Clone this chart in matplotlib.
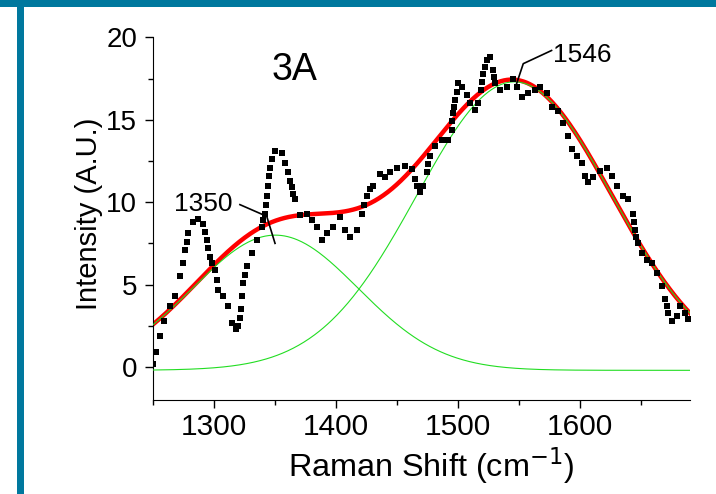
import matplotlib
matplotlib.use("Agg")
import matplotlib.pyplot as plt
import numpy as np
from matplotlib.patches import Rectangle

# measured Raman spectrum (black squares)
raman_shift = [1250, 1252, 1255.5, 1259, 1263.7, 1268, 1272, 1274, 1276, 1277.3, 1278.7,
               1282.8, 1286.9, 1291, 1292.4, 1293.8, 1294.8, 1296.5, 1298.5, 1300.6, 1302,
               1303.3, 1307.4, 1311.5, 1314.3, 1317.8, 1319.7, 1321, 1321.6, 1322.7, 1323.8,
               1325, 1326.6, 1330.7, 1334.8, 1338.9, 1340, 1341.6, 1342.5, 1343.5, 1344.3,
               1345.1, 1346, 1347, 1349.8, 1355.2, 1358, 1360.7, 1362, 1363.4, 1364.7,
               1366.1, 1370.2, 1375.7, 1379.8, 1383.9, 1388, 1392.1, 1397.5, 1403, 1407.1,
               1411.2, 1416.7, 1420.8, 1422.8, 1424.9, 1427.5, 1430.3, 1435.8, 1439.9, 1444,
               1449.5, 1456.3, 1461.8, 1464.5, 1465.9, 1468.6, 1471.3, 1474.1, 1475.5, 1476.8,
               1480.9, 1486.4, 1491.8, 1494.6, 1495.2, 1495.9, 1496.5, 1497.3, 1498.6, 1500,
               1502.8, 1506.9, 1509.6, 1513.7, 1516.4, 1518.4, 1519.5, 1520.5, 1521.9, 1523.3,
               1526, 1528.7, 1529.4, 1530.1, 1534.2, 1539.7, 1545.1, 1547.9, 1552, 1557.4,
               1562.9, 1567, 1572.5, 1576.6, 1582, 1586.1, 1590.2, 1593, 1597, 1601.1,
               1603.9, 1606.6, 1610.7, 1616.1, 1621.6, 1625.7, 1629.8, 1635.2, 1639.3, 1643.4,
               1643.9, 1644.8, 1646, 1647.5, 1650.3, 1654.4, 1658.5, 1662.6, 1666.7, 1669.4,
               1670.8, 1672.1, 1674.9, 1679, 1681.7, 1685.8, 1688.5]
intensity = [0.2, 0.9, 1.9, 2.8, 3.7, 4.3, 5.5, 6.3, 7.1, 7.6, 8.1,
             8.8, 9.0, 8.7, 8.2, 7.7, 7.2, 6.7, 6.3, 5.9, 5.3,
             4.7, 4.3, 3.7, 2.7, 2.3, 2.5, 3.0, 3.5, 4.3, 5.1,
             5.6, 6.1, 6.9, 7.7, 8.5, 8.9, 9.3, 9.8, 10.4, 11.0,
             11.6, 12.1, 12.6, 13.1, 13.0, 12.4, 11.8, 11.3, 10.9, 10.5,
             10.2, 9.2, 9.3, 8.9, 8.5, 7.7, 8.1, 8.5, 9.1, 8.3,
             7.9, 8.3, 9.3, 9.8, 10.4, 10.8, 11.0, 11.7, 11.5, 11.8,
             12.1, 12.2, 12.0, 11.4, 11.0, 10.6, 11.0, 11.8, 12.3, 12.8,
             13.4, 13.8, 13.8, 14.4, 14.9, 15.4, 15.8, 16.2, 16.7, 17.2,
             17.0, 16.5, 16.0, 15.6, 16.0, 16.8, 17.3, 17.8, 18.2, 18.6,
             18.8, 18.0, 17.6, 17.2, 16.8, 17.0, 17.5, 17.0, 16.4, 16.6,
             16.8, 17.0, 16.6, 15.8, 15.5, 14.8, 14.0, 13.2, 12.8, 12.4,
             11.6, 11.2, 11.5, 11.9, 12.1, 11.6, 11.0, 10.4, 10.2, 9.3,
             8.8, 8.3, 7.9, 7.5, 6.9, 6.5, 6.3, 5.7, 4.9, 4.1,
             3.7, 3.3, 2.8, 3.1, 3.7, 3.3, 2.9]

# fitted peaks (green) and their sum (red)
peak_centers = [1350, 1546]
peak_heights = [8.2, 17.5]
peak_widths = [68, 80]
baseline = -0.2

xfit = np.linspace(1250, 1690, 500)
peaks = [h * np.exp(-(xfit - c) ** 2 / (2 * w ** 2))
         for c, h, w in zip(peak_centers, peak_heights, peak_widths)]
total = baseline + sum(peaks)

plt.rcParams['font.family'] = ['Liberation Sans', 'DejaVu Sans']
fig = plt.figure(figsize=(7.16, 4.94), dpi=100)
ax = fig.add_axes([0.2141, 0.1903, 0.7496, 0.7342])

ax.plot(xfit, total, color='#ff0000', lw=3.2, zorder=2)
for p in peaks:
    ax.plot(xfit, baseline + p, color='#22dd22', lw=0.8, zorder=3)
ax.plot(raman_shift, intensity, 's', color='black', ms=4.5, mew=0, zorder=4)

# peak labels with leader lines
ax.text(1291, 9.9, '1350', fontsize=19, ha='center', va='center')
ax.plot([1321, 1343, 1349.8], [9.85, 9.14, 7.5], color='black', lw=1.2, zorder=5)
ax.text(1577.5, 18.9, '1546', fontsize=19, ha='left', va='center')
ax.plot([1576.5, 1553.3, 1547.9], [19.2, 18.4, 17.2], color='black', lw=1.2, zorder=5)
ax.text(1366, 18.0, '3A', fontsize=27, ha='center', va='center')

ax.set_xlim(1250, 1690)
ax.set_ylim(-2, 20)
ax.set_xticks([1300, 1400, 1500, 1600])
ax.set_xticks([1250, 1350, 1450, 1550, 1650], minor=True)
ax.set_yticks([0, 5, 10, 15, 20])
ax.set_yticks([2.5, 7.5, 12.5, 17.5], minor=True)
ax.set_ylim(-2, 20)
ax.spines['top'].set_visible(False)
ax.spines['right'].set_visible(False)
ax.tick_params(which='major', direction='out', length=6, width=1)
ax.tick_params(which='minor', direction='out', length=3.5, width=1)
ax.tick_params(axis='x', labelsize=21.5)
ax.tick_params(axis='y', which='major', labelsize=20, pad=5.5)
ax.set_xlabel('Raman Shift (cm$^{-1}$)', fontsize=23.3)
ax.set_ylabel('Intensity (A.U.)', fontsize=21)
ax.xaxis.set_label_coords(0.517, -0.125)
ax.yaxis.set_label_coords(-0.093, 0.514)

# blue frame of the slide
fig.add_artist(Rectangle((0, 1 - 7.3 / 494), 1, 7.3 / 494, transform=fig.transFigure,
                         color='#00789e', lw=0))
fig.add_artist(Rectangle((16.7 / 716, 0), 7.3 / 716, 1, transform=fig.transFigure,
                         color='#00789e', lw=0))

fig.savefig('out.png', dpi=100)
